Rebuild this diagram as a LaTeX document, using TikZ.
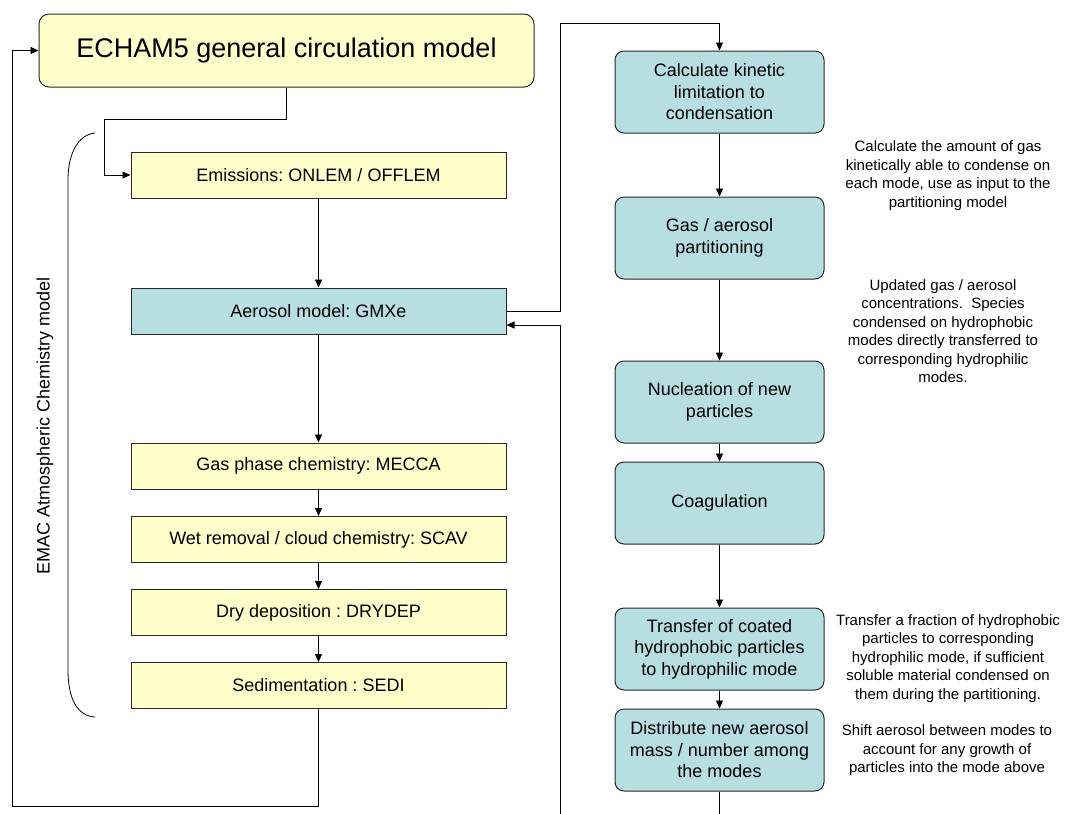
\documentclass[tikz,border=0pt]{standalone}
\usepackage{fontspec}
\setmainfont{Liberation Sans}
\usetikzlibrary{arrows.meta}
\definecolor{ylw}{RGB}{255,255,204}
\definecolor{tealbox}{RGB}{183,222,225}
\definecolor{edge}{RGB}{40,40,40}
\frenchspacing
\begin{document}
\begin{tikzpicture}[x=1pt,y=-1pt,
  conn/.style={draw=black,line width=0.8pt},
  arr/.style={conn,-{Triangle[length=8pt,width=7pt]}},
  lbox/.style={draw=edge,line width=1pt,minimum width=375pt,minimum height=46pt,inner sep=0pt,font=\fontsize{18}{21.5}\selectfont},
  ybox/.style={lbox,fill=ylw},
  tbox/.style={lbox,fill=tealbox},
  rbox/.style={draw=edge,line width=1pt,fill=tealbox,rounded corners=9pt,minimum width=209pt,minimum height=82pt,inner sep=0pt,align=center,font=\fontsize{18}{21.5}\selectfont},
  note/.style={inner sep=0pt,align=center,font=\fontsize{15}{18.5}\selectfont}
]
\useasboundingbox (0,0) rectangle (1069,814);

% main model box
\node[draw=edge,line width=1pt,fill=ylw,rounded corners=10pt,minimum width=495pt,minimum height=73pt,inner sep=0pt,font=\fontsize{27}{32}\selectfont] (echam) at (286.5,50.5) {ECHAM5 general circulation model};

% left column
\node[ybox] (emis) at (318.5,175) {Emissions: ONLEM / OFFLEM};
\node[tbox] (aer) at (318.5,311) {Aerosol model: GMXe};
\node[ybox] (gas) at (318.5,466) {Gas phase chemistry: MECCA};
\node[ybox] (wet) at (318.5,539.5) {Wet removal / cloud chemistry: SCAV};
\node[ybox] (dry) at (318.5,612.5) {Dry deposition : DRYDEP};
\node[ybox] (sedi) at (318.5,685.5) {Sedimentation : SEDI};

% bracket and label
\draw[line width=0.8pt] (95,133) .. controls (77,135) and (68,155) .. (68,180) -- (68,670) .. controls (68,700) and (78,716) .. (95,717);
\node[rotate=90,inner sep=0pt,font=\fontsize{18}{21}\selectfont] (emac) at (45,426) {EMAC Atmospheric Chemistry model};

% right column
\node[rbox] (kin) at (719.5,92) {Calculate kinetic\\limitation to\\condensation};
\node[rbox] (part) at (719.5,238) {Gas / aerosol\\partitioning};
\node[rbox] (nuc) at (719.5,402) {Nucleation of new\\particles};
\node[rbox] (coag) at (719.5,503) {Coagulation};
\node[rbox] (trans) at (719.5,649) {Transfer of coated\\hydrophobic particles\\to hydrophilic mode};
\node[rbox] (dist) at (719.5,750) {Distribute new aerosol\\mass / number among\\the modes};

% annotations
\node[note] (n1) at (948,175.5) {Calculate the amount of gas\\kinetically able to condense on\\each mode, use as input to the\\partitioning model};
\node[note] (n2) at (943,331) {Updated gas / aerosol\\concentrations.\ \ Species\\condensed on hydrophobic\\modes directly transferred to\\corresponding hydrophilic\\modes.};
\node[note] (n3) at (948,658.5) {Transfer a fraction of hydrophobic\\particles to corresponding\\hydrophilic mode, if sufficient\\soluble material condensed on\\them during the partitioning.};
\node[note] (n4) at (947,750.5) {Shift aerosol between modes to\\account for any growth of\\particles into the mode above};

% coordinates
\coordinate (c1) at (286.5,119);
\coordinate (c2) at (104,119);
\coordinate (fb1) at (318.5,806);
\coordinate (fb2) at (12,806);
\coordinate (fb3) at (12,50.5);
\coordinate (o1) at (560,311);
\coordinate (o2) at (560,23);
\coordinate (o3) at (719.5,23);
\coordinate (rbot) at (560,814);
\coordinate (ret) at (560,325);

% left connectors
\draw[arr] (echam.south) -- (c1) -- (c2) |- (emis.west);
\draw[arr] (emis) -- (aer);
\draw[arr] (aer) -- (gas);
\draw[arr] (gas) -- (wet);
\draw[arr] (wet) -- (dry);
\draw[arr] (dry) -- (sedi);
\draw[arr] (sedi.south) -- (fb1) -- (fb2) -- (fb3) -- (echam.west);

% GMXe out and return
\draw[arr] (aer.east) -- (o1) -- (o2) -- (o3) -- (kin.north);
\draw[arr] (rbot) -- (ret) -- (ret -| aer.east);

% right connectors
\draw[arr] (kin) -- (part);
\draw[arr] (part) -- (nuc);
\draw[arr] (nuc) -- (coag);
\draw[arr] (coag) -- (trans);
\draw[arr] (trans) -- (dist);
\draw[conn] (dist.south) -- (dist.south |- rbot);
\end{tikzpicture}
\end{document}
